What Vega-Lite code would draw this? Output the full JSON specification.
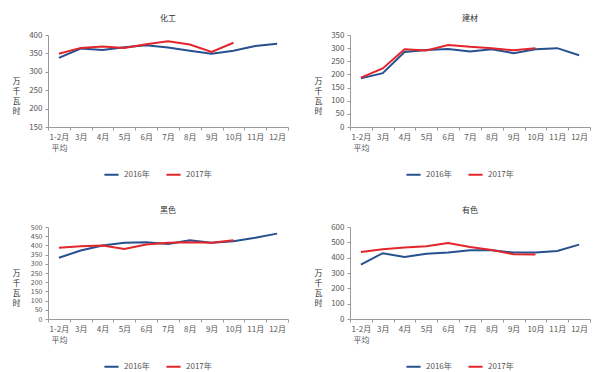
{
  "$schema": "https://vega.github.io/schema/vega-lite/v6.json",
  "padding": {"left": 12, "top": 15, "right": 8, "bottom": 2},
  "background": "white",
  "data": {"values": [
    {"panel":"化工","year":"2016年","month":"1-2月平均","value":338},
    {"panel":"化工","year":"2016年","month":"3月","value":363},
    {"panel":"化工","year":"2016年","month":"4月","value":359},
    {"panel":"化工","year":"2016年","month":"5月","value":367},
    {"panel":"化工","year":"2016年","month":"6月","value":372},
    {"panel":"化工","year":"2016年","month":"7月","value":366},
    {"panel":"化工","year":"2016年","month":"8月","value":357},
    {"panel":"化工","year":"2016年","month":"9月","value":349},
    {"panel":"化工","year":"2016年","month":"10月","value":357},
    {"panel":"化工","year":"2016年","month":"11月","value":370},
    {"panel":"化工","year":"2016年","month":"12月","value":376},
    {"panel":"化工","year":"2017年","month":"1-2月平均","value":349},
    {"panel":"化工","year":"2017年","month":"3月","value":365},
    {"panel":"化工","year":"2017年","month":"4月","value":369},
    {"panel":"化工","year":"2017年","month":"5月","value":365},
    {"panel":"化工","year":"2017年","month":"6月","value":375},
    {"panel":"化工","year":"2017年","month":"7月","value":383},
    {"panel":"化工","year":"2017年","month":"8月","value":374},
    {"panel":"化工","year":"2017年","month":"9月","value":354},
    {"panel":"化工","year":"2017年","month":"10月","value":379},
    {"panel":"建材","year":"2016年","month":"1-2月平均","value":185},
    {"panel":"建材","year":"2016年","month":"3月","value":205},
    {"panel":"建材","year":"2016年","month":"4月","value":285},
    {"panel":"建材","year":"2016年","month":"5月","value":293},
    {"panel":"建材","year":"2016年","month":"6月","value":297},
    {"panel":"建材","year":"2016年","month":"7月","value":287},
    {"panel":"建材","year":"2016年","month":"8月","value":296},
    {"panel":"建材","year":"2016年","month":"9月","value":281},
    {"panel":"建材","year":"2016年","month":"10月","value":296},
    {"panel":"建材","year":"2016年","month":"11月","value":300},
    {"panel":"建材","year":"2016年","month":"12月","value":273},
    {"panel":"建材","year":"2017年","month":"1-2月平均","value":188},
    {"panel":"建材","year":"2017年","month":"3月","value":223},
    {"panel":"建材","year":"2017年","month":"4月","value":296},
    {"panel":"建材","year":"2017年","month":"5月","value":291},
    {"panel":"建材","year":"2017年","month":"6月","value":312},
    {"panel":"建材","year":"2017年","month":"7月","value":305},
    {"panel":"建材","year":"2017年","month":"8月","value":300},
    {"panel":"建材","year":"2017年","month":"9月","value":292},
    {"panel":"建材","year":"2017年","month":"10月","value":300},
    {"panel":"黑色","year":"2016年","month":"1-2月平均","value":333},
    {"panel":"黑色","year":"2016年","month":"3月","value":372},
    {"panel":"黑色","year":"2016年","month":"4月","value":399},
    {"panel":"黑色","year":"2016年","month":"5月","value":414},
    {"panel":"黑色","year":"2016年","month":"6月","value":417},
    {"panel":"黑色","year":"2016年","month":"7月","value":408},
    {"panel":"黑色","year":"2016年","month":"8月","value":428},
    {"panel":"黑色","year":"2016年","month":"9月","value":414},
    {"panel":"黑色","year":"2016年","month":"10月","value":423},
    {"panel":"黑色","year":"2016年","month":"11月","value":441},
    {"panel":"黑色","year":"2016年","month":"12月","value":464},
    {"panel":"黑色","year":"2017年","month":"1-2月平均","value":387},
    {"panel":"黑色","year":"2017年","month":"3月","value":396},
    {"panel":"黑色","year":"2017年","month":"4月","value":399},
    {"panel":"黑色","year":"2017年","month":"5月","value":381},
    {"panel":"黑色","year":"2017年","month":"6月","value":405},
    {"panel":"黑色","year":"2017年","month":"7月","value":414},
    {"panel":"黑色","year":"2017年","month":"8月","value":417},
    {"panel":"黑色","year":"2017年","month":"9月","value":414},
    {"panel":"黑色","year":"2017年","month":"10月","value":428},
    {"panel":"有色","year":"2016年","month":"1-2月平均","value":355},
    {"panel":"有色","year":"2016年","month":"3月","value":429},
    {"panel":"有色","year":"2016年","month":"4月","value":405},
    {"panel":"有色","year":"2016年","month":"5月","value":425},
    {"panel":"有色","year":"2016年","month":"6月","value":433},
    {"panel":"有色","year":"2016年","month":"7月","value":448},
    {"panel":"有色","year":"2016年","month":"8月","value":448},
    {"panel":"有色","year":"2016年","month":"9月","value":433},
    {"panel":"有色","year":"2016年","month":"10月","value":433},
    {"panel":"有色","year":"2016年","month":"11月","value":444},
    {"panel":"有色","year":"2016年","month":"12月","value":485},
    {"panel":"有色","year":"2017年","month":"1-2月平均","value":437},
    {"panel":"有色","year":"2017年","month":"3月","value":455},
    {"panel":"有色","year":"2017年","month":"4月","value":466},
    {"panel":"有色","year":"2017年","month":"5月","value":474},
    {"panel":"有色","year":"2017年","month":"6月","value":496},
    {"panel":"有色","year":"2017年","month":"7月","value":470},
    {"panel":"有色","year":"2017年","month":"8月","value":450},
    {"panel":"有色","year":"2017年","month":"9月","value":422},
    {"panel":"有色","year":"2017年","month":"10月","value":420}
  ]},
  "columns": 2,
  "spacing": {"column": 25, "row": 28},
  "resolve": {"legend": {"color": "independent"}, "scale": {"color": "independent", "x": "independent", "y": "independent"}},
  "concat": [
    {
      "title": "化工",
      "width": 240, "height": 92,
      "transform": [{"filter": "datum.panel == '化工'"}],
      "mark": {"type": "line", "strokeWidth": 2},
      "encoding": {
        "x": {"field": "month", "type": "ordinal", "bandPosition": 0.5,
              "sort": ["1-2月平均","3月","4月","5月","6月","7月","8月","9月","10月","11月","12月"],
              "scale": {"type": "band", "paddingInner": 0, "paddingOuter": 0}},
        "y": {"field": "value", "type": "quantitative", "scale": {"domain": [150, 400], "nice": false},
              "axis": {"values": [150,200,250,300,350,400], "title": ["万","千","瓦","时"]}},
        "color": {"field": "year", "type": "nominal",
                  "scale": {"domain": ["2016年","2017年"], "range": ["#27508f","#e3262b"]}}
      }
    },
    {
      "title": "建材",
      "width": 240, "height": 92,
      "transform": [{"filter": "datum.panel == '建材'"}],
      "mark": {"type": "line", "strokeWidth": 2},
      "encoding": {
        "x": {"field": "month", "type": "ordinal", "bandPosition": 0.5,
              "sort": ["1-2月平均","3月","4月","5月","6月","7月","8月","9月","10月","11月","12月"],
              "scale": {"type": "band", "paddingInner": 0, "paddingOuter": 0}},
        "y": {"field": "value", "type": "quantitative", "scale": {"domain": [0, 350], "nice": false},
              "axis": {"values": [0,50,100,150,200,250,300,350], "title": ["万","千","瓦","时"]}},
        "color": {"field": "year", "type": "nominal",
                  "scale": {"domain": ["2016年","2017年"], "range": ["#27508f","#e3262b"]}}
      }
    },
    {
      "title": "黑色",
      "width": 240, "height": 92,
      "transform": [{"filter": "datum.panel == '黑色'"}],
      "mark": {"type": "line", "strokeWidth": 2},
      "encoding": {
        "x": {"field": "month", "type": "ordinal", "bandPosition": 0.5,
              "sort": ["1-2月平均","3月","4月","5月","6月","7月","8月","9月","10月","11月","12月"],
              "scale": {"type": "band", "paddingInner": 0, "paddingOuter": 0}},
        "y": {"field": "value", "type": "quantitative", "scale": {"domain": [0, 500], "nice": false},
              "axis": {"values": [0,50,100,150,200,250,300,350,400,450,500], "title": ["万","千","瓦","时"], "labelFontSize": 7}},
        "color": {"field": "year", "type": "nominal",
                  "scale": {"domain": ["2016年","2017年"], "range": ["#27508f","#e3262b"]}}
      }
    },
    {
      "title": "有色",
      "width": 240, "height": 92,
      "transform": [{"filter": "datum.panel == '有色'"}],
      "mark": {"type": "line", "strokeWidth": 2},
      "encoding": {
        "x": {"field": "month", "type": "ordinal", "bandPosition": 0.5,
              "sort": ["1-2月平均","3月","4月","5月","6月","7月","8月","9月","10月","11月","12月"],
              "scale": {"type": "band", "paddingInner": 0, "paddingOuter": 0}},
        "y": {"field": "value", "type": "quantitative", "scale": {"domain": [0, 600], "nice": false},
              "axis": {"values": [0,100,200,300,400,500,600], "title": ["万","千","瓦","时"]}},
        "color": {"field": "year", "type": "nominal",
                  "scale": {"domain": ["2016年","2017年"], "range": ["#27508f","#e3262b"]}}
      }
    }
  ],
  "config": {
    "view": {"stroke": null},
    "font": "Noto Sans CJK SC",
    "title": {"fontSize": 8, "fontWeight": "normal", "color": "#333333", "offset": 8, "font": "Noto Sans CJK SC"},
    "axis": {
      "labelFont": "Noto Sans CJK SC", "labelFontSize": 8, "labelColor": "#555555",
      "domainColor": "#9a9a9a", "tickColor": "#9a9a9a", "tickSize": 3, "grid": false
    },
    "axisX": {
      "title": null, "labelAngle": 0, "tickBand": "extent", "labelPadding": 3,
      "labelExpr": "datum.value == '1-2月平均' ? ['1-2月','平均'] : datum.value",
      "labelLineHeight": 11
    },
    "axisY": {
      "titleAngle": 0, "titleX": -32, "titleY": 46,
      "titleAlign": "center", "titleBaseline": "middle", "titleFontSize": 8, "titleFontWeight": "normal",
      "titleColor": "#333333", "titleLineHeight": 10, "titleFont": "Noto Sans CJK SC", "labelPadding": 3
    },
    "legend": {
      "orient": "none", "legendX": 55, "legendY": 131, "direction": "horizontal", "title": null,
      "symbolType": "stroke", "symbolStrokeWidth": 2, "symbolSize": 200,
      "labelFont": "Noto Sans CJK SC", "labelFontSize": 8, "labelColor": "#555555",
      "columnPadding": 12
    }
  }
}
